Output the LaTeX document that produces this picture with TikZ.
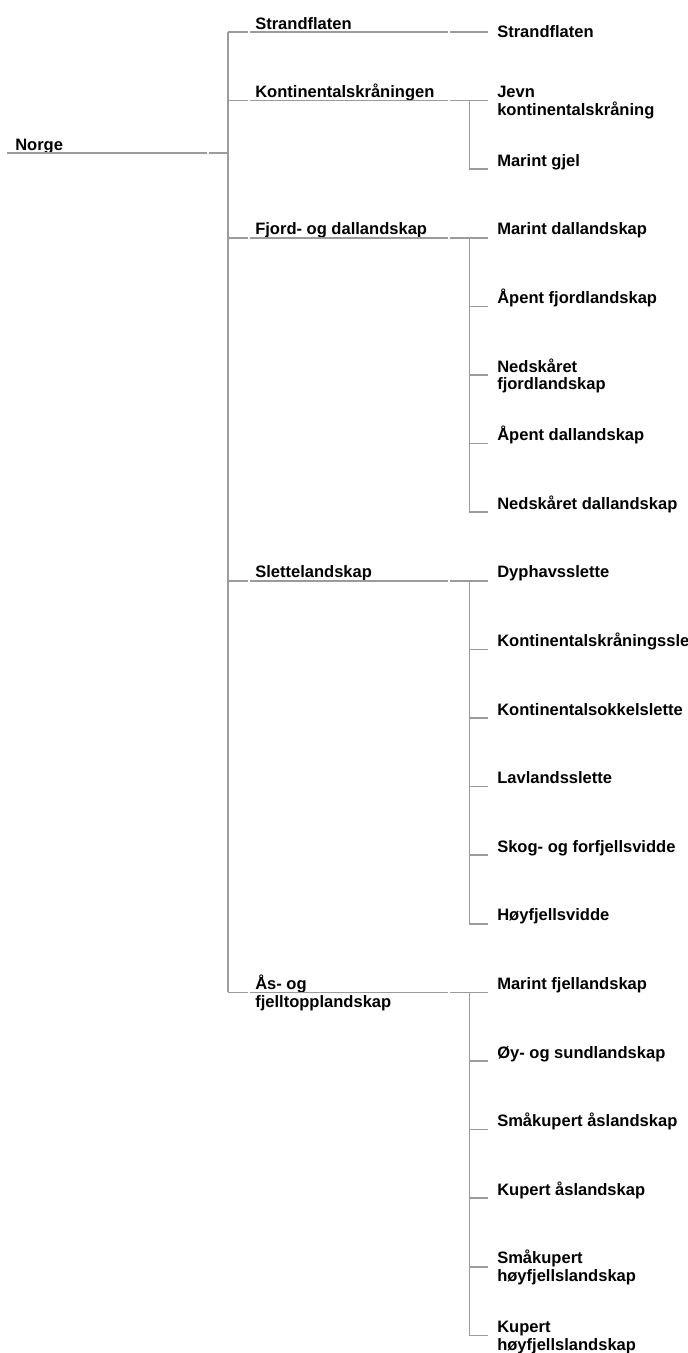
\documentclass[tikz,border=0pt]{standalone}
\usepackage{fontspec}
\setmainfont{Liberation Sans}[BoldFont={Liberation Sans Bold}]
\usepackage{tikz}
\definecolor{linegray}{RGB}{155,155,155}

\begin{document}
\begin{tikzpicture}[x=0.75pt,y=-0.75pt,
    lbl/.style={font=\bfseries\fontsize{12.4}{13.2}\selectfont,anchor=base west,inner sep=0pt,align=left},
    twoline/.style={yshift=-13.2pt},
    ln/.style={draw=linegray,line width=1.1pt}]
\def\dy{68.6}
\useasboundingbox (0,0) rectangle (687,1353);
\clip (0,0) rectangle (687,1353);

% ends of the leaf lines
\foreach \i in {0,...,19}
  \coordinate (t\i) at (488,{32+\i*\dy});

% root
\node[lbl] (norge) at (15,150) {Norge};
\coordinate (norge-l) at (7,153);
\coordinate (root) at (228,153);
\draw[ln] (norge-l) -- ++(200,0) ++(2,0) -- (root);

% main groups
\foreach \n/\i/\o/\txt in {strand/0//Strandflaten, kont/1//Kontinentalskråningen,
    fjord/3//Fjord- og dallandskap, slette/8//Slettelandskap,
    aas/14/twoline/{Ås- og\\fjelltopplandskap}}{
  \coordinate (\n-b) at (228,{32+\i*\dy});
  \node[lbl,\o] (\n) at (255,{29+\i*\dy}) {\txt};
  \draw[ln] (\n-b) -- ++(20,0) ++(2,0) -- ++(198,0) ++(2,0) -- (t\i);
}
\draw[ln] (strand-b) -- (aas-b);

% sub groups
\foreach \n/\a/\b in {kont/1/2, fjord/3/7, slette/8/13, aas/14/19}{
  \coordinate (\n-k) at (469.5,{32+\a*\dy});
  \pgfmathtruncatemacro\s{\a+1}
  \foreach \i in {\s,...,\b}
    \draw[ln] (\n-k) |- (t\i);
}

% leaves
\node[lbl] (c0) at (497,37) {Strandflaten};
\foreach \i/\o/\txt in {1/twoline/{Jevn\\kontinentalskråning}, 2//Marint gjel,
    3//Marint dallandskap, 4//Åpent fjordlandskap, 5/twoline/{Nedskåret\\fjordlandskap},
    6//Åpent dallandskap, 7//Nedskåret dallandskap,
    8//Dyphavsslette, 9//Kontinentalskråningsslette, 10//Kontinentalsokkelslette,
    11//Lavlandsslette, 12//Skog- og forfjellsvidde, 13//Høyfjellsvidde,
    14//Marint fjellandskap, 15//Øy- og sundlandskap, 16//Småkupert åslandskap,
    17//Kupert åslandskap, 18/twoline/{Småkupert\\høyfjellslandskap},
    19/twoline/{Kupert\\høyfjellslandskap}}
  \node[lbl,\o] (c\i) at (497,{29+\i*\dy}) {\txt};
\end{tikzpicture}
\end{document}
